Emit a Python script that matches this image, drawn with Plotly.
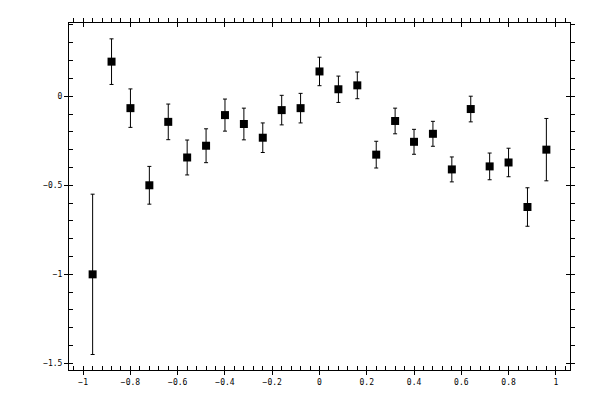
import plotly.graph_objects as go

# measured points with symmetric errors
x_vals = [-0.96, -0.88, -0.80, -0.72, -0.64, -0.56, -0.48, -0.40, -0.32, -0.24,
          -0.16, -0.08, 0.00, 0.08, 0.16, 0.24, 0.32, 0.40, 0.48, 0.56,
          0.64, 0.72, 0.80, 0.88, 0.96]
y_vals = [-1.000, 0.194, -0.067, -0.500, -0.144, -0.344, -0.278, -0.106, -0.156, -0.233,
          -0.078, -0.067, 0.139, 0.039, 0.061, -0.328, -0.139, -0.256, -0.211, -0.411,
          -0.072, -0.394, -0.372, -0.622, -0.300]
y_err = [0.450, 0.128, 0.108, 0.106, 0.100, 0.098, 0.095, 0.090, 0.089, 0.083,
         0.083, 0.083, 0.080, 0.074, 0.075, 0.075, 0.072, 0.070, 0.070, 0.070,
         0.072, 0.075, 0.080, 0.108, 0.175]

x_range = [-1.06, 1.06]
y_range = [-1.537, 0.411]
font = dict(family="DejaVu Sans Mono", size=8, color="black")

pts = go.Scatter(
    x=x_vals, y=y_vals, mode="markers",
    marker=dict(symbol="square", size=8, color="black"),
    error_y=dict(type="data", array=y_err, visible=True,
                 color="black", thickness=1, width=2),
    showlegend=False,
)

def xax(side, ticks, minor_ticks=None, labels=False, over=None):
    d = dict(range=x_range, side=side, tick0=0, dtick=0.2, ticks=ticks, ticklen=4,
             tickcolor="black", tickwidth=1, showgrid=False, zeroline=False,
             showticklabels=labels, tickfont=font, showline=True,
             linecolor="black", linewidth=1, fixedrange=True)
    if minor_ticks:
        d["minor"] = dict(dtick=0.04, tick0=0, ticks=minor_ticks, ticklen=4,
                          tickcolor="black", tickwidth=1, showgrid=False)
    if over:
        d["overlaying"] = over
    return d

def yax(side, ticks, minor_ticks=None, labels=False, over=None):
    d = dict(range=y_range, side=side, tick0=0, dtick=0.5, ticks=ticks, ticklen=4,
             tickcolor="black", tickwidth=1, showgrid=False, zeroline=False,
             showticklabels=labels, tickfont=font, showline=True,
             linecolor="black", linewidth=1, fixedrange=True)
    if minor_ticks:
        d["minor"] = dict(dtick=0.1, tick0=0, ticks=minor_ticks, ticklen=4,
                          tickcolor="black", tickwidth=1, showgrid=False)
    if over:
        d["overlaying"] = over
    return d

# page body has an 8px margin, so the figure is a bit smaller than the window
layout = go.Layout(
    width=592, height=392,
    margin=dict(l=61, r=30, t=11, b=30),
    paper_bgcolor="white", plot_bgcolor="white",
    showlegend=False,
    xaxis=xax("bottom", "outside", "inside", labels=True),
    xaxis3=xax("bottom", "inside", over="x"),
    xaxis2=xax("top", "outside", "outside", over="x"),
    xaxis4=xax("top", "inside", over="x"),
    yaxis=yax("left", "outside", "inside", labels=True),
    yaxis3=yax("left", "inside", over="y"),
    yaxis2=yax("right", "outside", "outside", over="y"),
    yaxis4=yax("right", "inside", over="y"),
)

# empty helpers so the extra axes get drawn
helpers = [
    go.Scatter(x=[None], y=[None], xaxis="x2", yaxis="y2", showlegend=False),
    go.Scatter(x=[None], y=[None], xaxis="x3", yaxis="y3", showlegend=False),
    go.Scatter(x=[None], y=[None], xaxis="x4", yaxis="y4", showlegend=False),
]

fig = go.Figure(data=[pts] + helpers, layout=layout)
fig.write_html("out.html")
